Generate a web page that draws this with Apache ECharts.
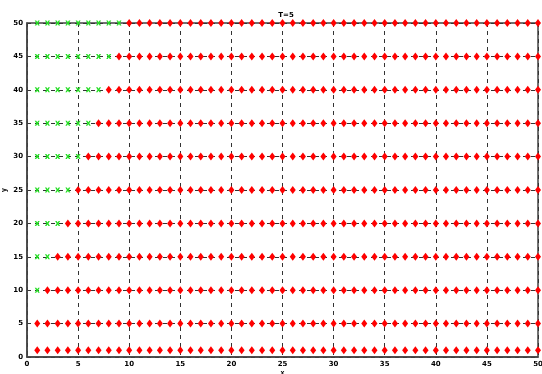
<!DOCTYPE html>
<html>
<head>
<meta charset="utf-8">
<script src="https://cdn.jsdelivr.net/npm/echarts@6/dist/echarts.min.js"></script>
<style>html,body{margin:0;padding:0;background:#fff;}#c{width:542px;height:374px;}</style>
</head>
<body>
<div id="c"></div>
<script>
// Data
const titleText = "T=5";
const xTicks = [0, 5, 10, 15, 20, 25, 30, 35, 40, 45, 50];
const yTicks = [0, 5, 10, 15, 20, 25, 30, 35, 40, 45, 50];
const xPositions = [1,2,3,4,5,6,7,8,9,10,11,12,13,14,15,16,17,18,19,20,21,22,23,24,25,26,27,28,29,30,31,32,33,34,35,36,37,38,39,40,41,42,43,44,45,46,47,48,49,50];
const rowY = [1, 5, 10, 15, 20, 25, 30, 35, 40, 45, 50];
// number of green (leading) points in each row
const greenCount = [0, 0, 1, 2, 3, 4, 5, 6, 7, 8, 9];

const greenPts = [], redPts = [];
rowY.forEach((y, i) => {
  xPositions.forEach((x, j) => {
    if (j < greenCount[i]) greenPts.push([x, y]); else redPts.push([x, y]);
  });
});

const chart = echarts.init(document.getElementById('c'), null, {renderer: 'canvas'});
const axisCommon = {
  min: 0, max: 50, interval: 5,
  axisLine: {show: true, onZero: false, lineStyle: {color: '#444', width: 1.5}},
  axisTick: {show: false},
  splitLine: {show: true, lineStyle: {color: '#333', type: [4, 4], width: 1}},
  axisLabel: {color: '#000', fontSize: 7, fontWeight: 'bold', fontFamily: 'DejaVu Sans'}
};
chart.setOption({
  animation: false,
  backgroundColor: '#fff',
  title: {text: titleText, left: 281, top: 7, textAlign: 'center',
    textStyle: {fontSize: 7, fontWeight: 'bold', color: '#000', fontFamily: 'DejaVu Sans'}},
  grid: {left: 27, right: 4, top: 23, bottom: 17, containLabel: false, outerBoundsMode: 'none',
    show: true, borderColor: '#444', borderWidth: 1.5},
  xAxis: Object.assign({}, axisCommon, {type: 'value', name: 'x', nameLocation: 'middle', nameGap: 13,
    nameMoveOverlap: false,
    nameTextStyle: {fontSize: 7, fontWeight: 'bold', color: '#000'},
    axisLabel: Object.assign({}, axisCommon.axisLabel, {margin: 4})}),
  yAxis: Object.assign({}, axisCommon, {type: 'value', name: 'y', nameLocation: 'middle', nameGap: 19,
    nameMoveOverlap: false,
    nameTextStyle: {fontSize: 7, fontWeight: 'bold', color: '#000'},
    axisLabel: Object.assign({}, axisCommon.axisLabel, {margin: 4})}),
  series: [
    {type: 'scatter', data: redPts, symbol: 'diamond', symbolSize: [6, 8],
      itemStyle: {color: '#ff0000', opacity: 1}, z: 3},
    {type: 'scatter', data: greenPts,
      symbol: 'path://M0,0L3,0L5,3L7,0L10,0L7,5L10,10L7,10L5,7L3,10L0,10L3,5Z',
      symbolSize: [5, 5], itemStyle: {color: '#22dd22', opacity: 1}, z: 3}
  ]
});
</script>
</body>
</html>
